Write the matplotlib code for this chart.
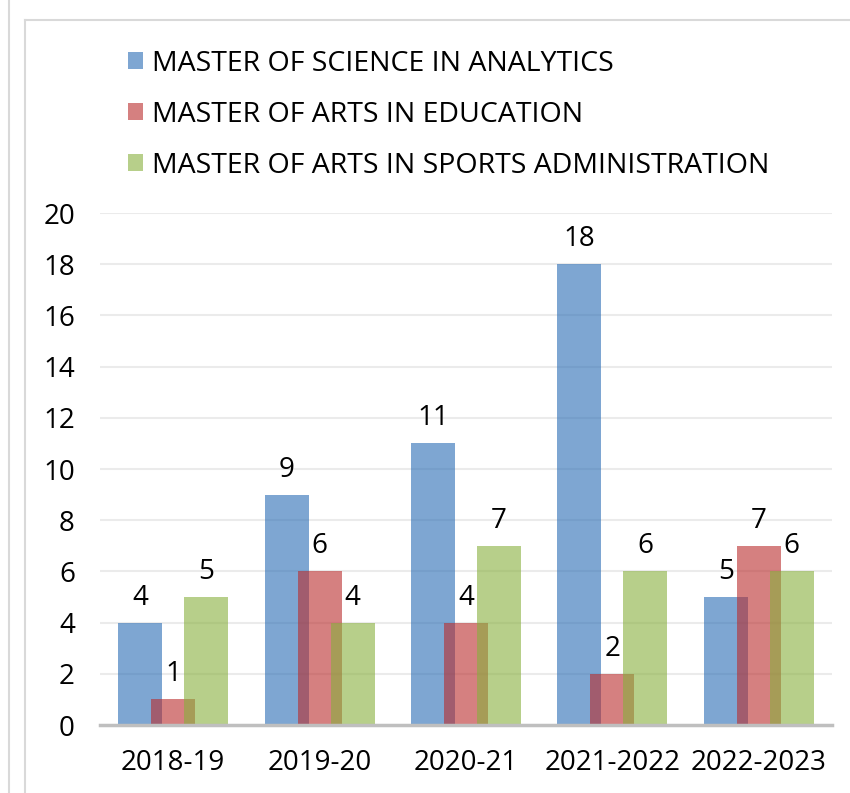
import numpy as np
import matplotlib.pyplot as plt
from matplotlib.patches import Patch
from matplotlib.lines import Line2D

# data
years = ["2018-19", "2019-20", "2020-21", "2021-2022", "2022-2023"]
series_names = ["MASTER OF SCIENCE IN ANALYTICS",
                "MASTER OF ARTS IN EDUCATION",
                "MASTER OF ARTS IN SPORTS ADMINISTRATION"]
analytics = [4, 9, 11, 18, 5]
education = [1, 6, 4, 2, 7]
sports = [5, 4, 7, 6, 6]
yticks = [0, 2, 4, 6, 8, 10, 12, 14, 16, 18, 20]

# style
plt.rcParams['font.family'] = ['Open Sans', 'DejaVu Sans']
colors = ["#286BB4", "#B92B2B", "#87AF3C"]   # drawn with alpha so overlaps darken
alpha = 0.6
fs = 20

fig = plt.figure(figsize=(8.5, 7.93), dpi=100)
ax = fig.add_axes([100 / 850, 1 - 725 / 793, 732 / 850, 512 / 793])

x = np.arange(len(years))
width = 0.30
step = 0.2254
all_vals = [analytics, education, sports]
for i, (vals, c) in enumerate(zip(all_vals, colors)):
    pos = x + (i - 1) * step
    ax.bar(pos, vals, width=width, color=c, alpha=alpha, linewidth=0, zorder=2)
    for px, v in zip(pos, vals):
        ax.annotate(str(v), (px, v), xytext=(0, 13), textcoords="offset points",
                    ha="center", va="baseline", fontsize=fs, color="#000000")

ax.set_xlim(-0.5, len(years) - 0.5)
ax.set_ylim(0, 20)
ax.set_yticks(yticks)
ax.set_xticks(x)
ax.set_xticklabels(years)
ax.tick_params(axis="both", length=0, labelsize=fs, colors="#000000")
ax.tick_params(axis="y", pad=18)
ax.tick_params(axis="x", pad=17)
ax.yaxis.grid(True, color="#EBEBEB", linewidth=1.5, zorder=0)
ax.set_axisbelow(True)
for s in ["top", "right", "left"]:
    ax.spines[s].set_visible(False)
ax.spines["bottom"].set_color("#BFBFBF")
ax.spines["bottom"].set_linewidth(2.5)
ax.spines["bottom"].set_zorder(3)

# legend
handles = [Patch(facecolor=c, alpha=alpha, linewidth=0) for c in colors]
fig.legend(handles, series_names, loc="upper left",
           bbox_to_anchor=(128 / 850, 1 - 50 / 793), frameon=False,
           fontsize=20.5, handlelength=0.54, handleheight=0.54,
           handletextpad=0.3, labelspacing=0.8, borderpad=0, borderaxespad=0)

# chart frame lines
frame_c = "#D9D9D9"
fig.add_artist(Line2D([9 / 850, 9 / 850], [0, 1], color=frame_c, linewidth=1.5))
fig.add_artist(Line2D([25 / 850, 25 / 850], [0, 1 - 20 / 793], color=frame_c, linewidth=1.5))
fig.add_artist(Line2D([25 / 850, 1], [1 - 20 / 793, 1 - 20 / 793], color=frame_c, linewidth=1.5))

fig.savefig("out.png", dpi=100)
